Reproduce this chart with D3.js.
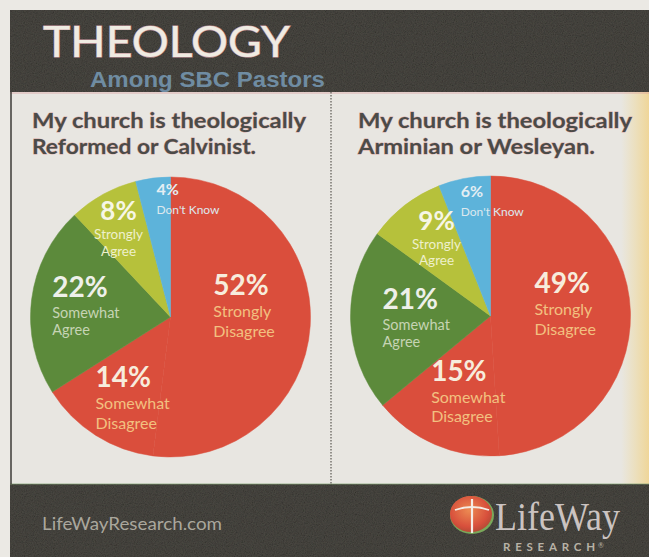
<!DOCTYPE html>
<html>
<head>
<meta charset="utf-8">
<script src="https://cdn.jsdelivr.net/npm/d3@7"></script>
<style>
  html, body { margin: 0; padding: 0; background: #ebe9e4; }
  svg { display: block; font-family: Lato, "Open Sans", sans-serif; }
</style>
</head>
<body>
<svg id="chart"></svg>
<script>
const categories = ["Strongly Disagree", "Somewhat Disagree", "Somewhat Agree", "Strongly Agree", "Don't Know"];
const subLabels = [["Strongly", "Disagree"], ["Somewhat", "Disagree"], ["Somewhat", "Agree"], ["Strongly", "Agree"], ["Don't Know"]];
const reformedValues = [52, 14, 22, 8, 4];
const arminianValues = [49, 15, 21, 9, 6];
const panelTitles = [
  ["My church is theologically", "Reformed or Calvinist."],
  ["My church is theologically", "Arminian or Wesleyan."]
];
const headerTitle = "THEOLOGY";
const headerSub = "Among SBC Pastors";
const footerUrl = "LifeWayResearch.com";

// styles
const sliceColors = ["#da4e3c", "#da4e3c", "#5c8a3b", "#b6c13b", "#5db3da"];
const pctColors = ["#f7ecdc", "#f7ecdc", "#eef0ea", "#f6f6e6", "#e4eef3"];
const subColors = ["#f2c080", "#f2c080", "#c6d4b4", "#eef0cc", "#dce8ee"];
const pctSize = [28, 28, 28, 26, 16];
const subSize = [16, 16, 14.5, 13.5, 12];
const subOffsets = [[22, 41.5], [22, 41.5], [20.5, 38], [19, 35.5], [19]];
const anchors = ["start", "start", "start", "middle", "start"];

const W = 649, H = 557;
const svg = d3.select("#chart").attr("width", W).attr("height", H);

const defs = svg.append("defs");
const grain = defs.append("filter").attr("id", "grain").attr("x", 0).attr("y", 0).attr("width", 1).attr("height", 1);
grain.append("feTurbulence").attr("type", "fractalNoise").attr("baseFrequency", 0.9).attr("numOctaves", 2).attr("result", "n");
grain.append("feColorMatrix").attr("type", "saturate").attr("values", 0).attr("in", "n").attr("result", "g");
grain.append("feComposite").attr("in", "g").attr("in2", "SourceGraphic").attr("operator", "in").attr("result", "gi");
grain.append("feBlend").attr("in", "SourceGraphic").attr("in2", "gi").attr("mode", "multiply");

const yellow = defs.append("linearGradient").attr("id", "edge").attr("x1", 0).attr("x2", 1);
yellow.append("stop").attr("offset", 0).attr("stop-color", "#f2d98a").attr("stop-opacity", 0);
yellow.append("stop").attr("offset", 1).attr("stop-color", "#f2d080").attr("stop-opacity", 0.75);

const logoGrad = defs.append("radialGradient").attr("id", "logo").attr("cx", 0.45).attr("cy", 0.4).attr("r", 0.6);
logoGrad.append("stop").attr("offset", 0).attr("stop-color", "#ec8a52");
logoGrad.append("stop").attr("offset", 0.75).attr("stop-color", "#d8503c");
logoGrad.append("stop").attr("offset", 1).attr("stop-color", "#b84a36");

// frame
const frame = { left: 10, top: 10, headerBottom: 92, footerTop: 484 };
svg.append("rect").attr("width", W).attr("height", H).attr("fill", "#ebe9e4");
svg.append("rect")
  .attr("x", frame.left).attr("y", frame.headerBottom)
  .attr("width", W - frame.left).attr("height", frame.footerTop - frame.headerBottom)
  .attr("fill", "#e8e6e1");
svg.append("rect")
  .attr("x", W - 28).attr("y", frame.headerBottom)
  .attr("width", 28).attr("height", frame.footerTop - frame.headerBottom)
  .attr("fill", "url(#edge)");

// dark bands
[[frame.top, frame.headerBottom], [frame.footerTop, H]].forEach(([y0, y1]) => {
  svg.append("rect")
    .attr("x", frame.left).attr("y", y0)
    .attr("width", W - frame.left).attr("height", y1 - y0)
    .attr("fill", "#4c4a44").attr("filter", "url(#grain)");
});
svg.append("line").attr("x1", frame.left).attr("x2", W)
  .attr("y1", frame.headerBottom + 1).attr("y2", frame.headerBottom + 1)
  .attr("stroke", "#d79a9a").attr("stroke-width", 1.2).attr("opacity", 0.7);
svg.append("line").attr("x1", frame.left).attr("x2", W)
  .attr("y1", frame.footerTop).attr("y2", frame.footerTop)
  .attr("stroke", "#7fa070").attr("stroke-width", 1.2).attr("opacity", 0.7);
svg.append("line").attr("x1", frame.left + 1).attr("x2", frame.left + 1)
  .attr("y1", frame.headerBottom).attr("y2", frame.footerTop)
  .attr("stroke", "#3c3a36").attr("stroke-width", 1.5);
svg.append("line").attr("x1", 331).attr("x2", 331)
  .attr("y1", frame.headerBottom).attr("y2", frame.footerTop)
  .attr("stroke", "#77756f").attr("stroke-width", 1.5).attr("stroke-dasharray", "1.5,1.5");

// header text
svg.append("text")
  .attr("x", 43).attr("y", 57)
  .attr("font-size", 42).attr("fill", "#efebe2")
  .attr("textLength", 247).attr("lengthAdjust", "spacingAndGlyphs")
  .style("paint-order", "stroke")
  .attr("stroke", "#c89aa0").attr("stroke-width", 1.2)
  .text(headerTitle);
svg.append("text")
  .attr("x", 90).attr("y", 86.5)
  .attr("font-family", "'Liberation Sans', sans-serif")
  .attr("font-size", 22).attr("font-weight", 700).attr("fill", "#6f8ca2")
  .attr("textLength", 235).attr("lengthAdjust", "spacingAndGlyphs")
  .text(headerSub);

// pies
const radius = 140;
const pie = d3.pie().sort(null).value(d => d);
const arc = d3.arc().innerRadius(0).outerRadius(radius);
const labelArc = d3.arc().innerRadius(radius * 0.6).outerRadius(radius * 0.6);

const panels = [
  { left: 11, values: reformedValues, cy: 317, titleX: 32, titleY: [128, 153.5], widths: [274, 224],
    nudges: [[-41, -27], [-30, -0.5], [-35, -9], [-11.5, -23], [-3.5, -39]] },
  { left: 331, values: arminianValues, cy: 316, titleX: 358, titleY: [128, 153.5], widths: [274, 237],
    nudges: [[-40, -20], [-26, -12.5], [-24, -9.5], [-2.5, -20], [-14, -36.5]] }
];

panels.forEach((p, i) => {
  const g = svg.append("g");

  panelTitles[i].forEach((line, k) => {
    g.append("text")
      .attr("x", p.titleX).attr("y", p.titleY[k])
      .attr("font-size", 21).attr("font-weight", 700)
      .attr("fill", "#4b4b48")
      .attr("textLength", p.widths[k]).attr("lengthAdjust", "spacingAndGlyphs")
      .style("paint-order", "stroke")
      .attr("stroke", "#d9a8a4").attr("stroke-width", 0.8)
      .text(line);
  });

  const cx = p.left + 159.5;
  const pg = g.append("g").attr("transform", `translate(${cx},${p.cy})`);
  const arcs = pie(p.values);

  pg.selectAll("path")
    .data(arcs)
    .join("path")
    .attr("d", arc)
    .attr("fill", (d, j) => sliceColors[j])
    .attr("stroke", (d, j) => sliceColors[j])
    .attr("stroke-width", 0.5);

  const labels = pg.selectAll("g.label")
    .data(arcs)
    .join("g")
    .attr("class", "label")
    .attr("transform", (d, j) => {
      const [x, y] = labelArc.centroid(d);
      return `translate(${x + p.nudges[j][0]},${y + p.nudges[j][1]})`;
    })
    .attr("text-anchor", (d, j) => anchors[j]);

  labels.append("text")
    .attr("font-size", (d, j) => pctSize[j])
    .attr("font-weight", 700)
    .attr("fill", (d, j) => pctColors[j])
    .text(d => d.data + "%");

  labels.each(function (d, j) {
    d3.select(this).selectAll("text.sub")
      .data(subLabels[j])
      .join("text")
      .attr("class", "sub")
      .attr("y", (s, k) => subOffsets[j][k])
      .attr("font-size", subSize[j])
      .attr("fill", subColors[j])
      .text(s => s);
  });
});

// footer
svg.append("text")
  .attr("x", 42).attr("y", 530)
  .attr("font-size", 17).attr("fill", "#aaa79d")
  .attr("textLength", 180).attr("lengthAdjust", "spacingAndGlyphs")
  .text(footerUrl);

const logo = svg.append("g").attr("transform", "translate(472,515)");
logo.append("ellipse").attr("rx", 22).attr("ry", 19).attr("fill", "#7aa85a");
logo.append("ellipse").attr("cx", -1).attr("cy", -1).attr("rx", 21).attr("ry", 18).attr("fill", "url(#logo)");
logo.append("line").attr("x1", 0).attr("x2", 0).attr("y1", -16).attr("y2", 18)
  .attr("stroke", "#f4ece6").attr("stroke-width", 2.2);
logo.append("path").attr("d", "M-17,-5 Q0,-11 17,-5").attr("fill", "none")
  .attr("stroke", "#f4ece6").attr("stroke-width", 1.8);

svg.append("text")
  .attr("x", 495).attr("y", 530)
  .attr("font-family", "'Liberation Serif', serif")
  .attr("font-size", 39).attr("fill", "#cbc3c1")
  .attr("textLength", 125).attr("lengthAdjust", "spacingAndGlyphs")
  .text("LifeWay");
svg.append("text")
  .attr("x", 503).attr("y", 551)
  .attr("font-size", 11.5).attr("font-weight", 700).attr("fill", "#b8b2a6")
  .attr("textLength", 92).attr("lengthAdjust", "spacing")
  .text("RESEARCH");
svg.append("text")
  .attr("x", 598).attr("y", 548)
  .attr("font-size", 7).attr("fill", "#b8b2a6")
  .text("®");
</script>
</body>
</html>
